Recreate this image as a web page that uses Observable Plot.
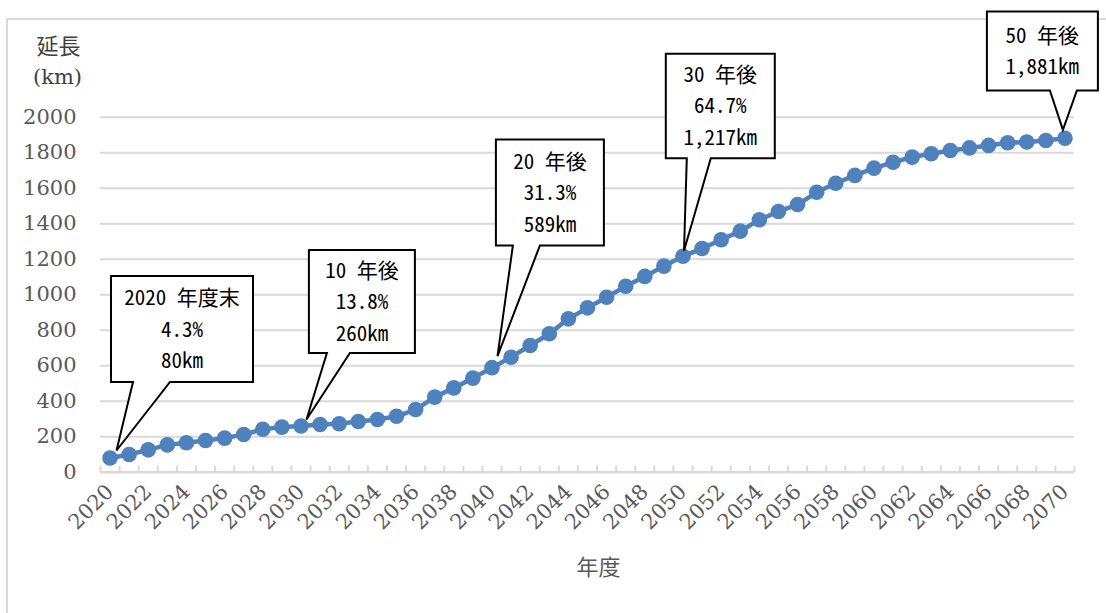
<!DOCTYPE html>
<html>
<head>
<meta charset="utf-8">
<script src="https://cdn.jsdelivr.net/npm/d3@7"></script>
<script src="https://cdn.jsdelivr.net/npm/@observablehq/plot@0.6"></script>
<style>
  html, body { margin: 0; padding: 0; background: #fff; }
  #wrap { position: relative; width: 1106px; height: 613px; overflow: hidden; }
  #frame { position: absolute; left: 6px; top: 18px; width: 1200px; height: 700px; border: 2px solid #d9d9d9; box-sizing: border-box; }
  #chart { position: absolute; left: 0; top: 0; }
</style>
</head>
<body>
<div id="wrap"><div id="frame"></div><div id="chart"></div></div>
<script>
// ---- data ----
const years = [2020,2021,2022,2023,2024,2025,2026,2027,2028,2029,
  2030,2031,2032,2033,2034,2035,2036,2037,2038,2039,
  2040,2041,2042,2043,2044,2045,2046,2047,2048,2049,
  2050,2051,2052,2053,2054,2055,2056,2057,2058,2059,
  2060,2061,2062,2063,2064,2065,2066,2067,2068,2069,2070];
const lengthKm = [80,100,126,154,166,179,192,212,242,254,
  260,269,273,286,297,315,353,423,475,530,
  589,648,714,780,864,926,986,1048,1103,1161,
  1217,1260,1310,1358,1422,1469,1508,1577,1628,1672,
  1713,1746,1775,1794,1812,1827,1841,1856,1860,1869,1881];
const xTickLabels = [2020,2022,2024,2026,2028,2030,2032,2034,2036,2038,2040,2042,2044,2046,2048,2050,2052,2054,2056,2058,2060,2062,2064,2066,2068,2070];
const yTickLabels = [0,200,400,600,800,1000,1200,1400,1600,1800,2000];
const calloutYears = [2020, 2030, 2040, 2050, 2070];
const calloutLines = [
  ["2020 年度末", "4.3%", "80km"],
  ["10 年後", "13.8%", "260km"],
  ["20 年後", "31.3%", "589km"],
  ["30 年後", "64.7%", "1,217km"],
  ["50 年後", "1,881km"]
];
const yAxisTitle = ["延長", "(km)"];
const xAxisTitle = "年度";

// ---- callout layout (pixel offsets from the anchored data point) ----
const calloutLayout = [
  {left: 1.5, right: 143.5, top: -181.5, bottom: -75.5, base: [23.5, 60.5], tip: [7, -7]},
  {left: 8.4, right: 114.4, top: -175.5, bottom: -72.5, base: [26.4, 49.4], tip: [6, -6]},
  {left: 4.4, right: 112.4, top: -227.7, bottom: -121.7, base: [21.4, 48.4], tip: [6, -11]},
  {left: -16.7, right: 92.3, top: -202, bottom: -97.5, base: [4.3, 28.3], tip: [1.5, -5]},
  {left: -77.6, right: 33.4, top: -126.3, bottom: -47.3, base: [-14.6, 12.4], tip: [-1.6, -8]}
];

const serif = "'DejaVu Serif', 'Liberation Serif', serif";
const calloutFont = "'Noto Sans Mono CJK JP', 'Noto Sans CJK JP', sans-serif";

const data = years.map((y, i) => ({year: y, km: lengthKm[i]}));
const boundaries = years.map(y => y - 0.5).concat([years[years.length - 1] + 0.5]);

const calloutMark = (index, scales) => {
  const g = d3.create("svg:g");
  calloutYears.forEach((yr, i) => {
    const v = lengthKm[years.indexOf(yr)];
    const px = scales.x(yr), py = scales.y(v);
    const L = calloutLayout[i];
    const pts = [[L.left, L.top], [L.right, L.top], [L.right, L.bottom], [L.base[1], L.bottom],
                 [L.tip[0], L.tip[1]], [L.base[0], L.bottom], [L.left, L.bottom]];
    g.append("path")
      .attr("d", "M" + pts.map(p => (px + p[0]).toFixed(1) + "," + (py + p[1]).toFixed(1)).join("L") + "Z")
      .attr("fill", "#fff").attr("stroke", "#000").attr("stroke-width", 2).attr("stroke-linejoin", "miter");
    const lines = calloutLines[i];
    const cx = px + (L.left + L.right) / 2, cy = py + (L.top + L.bottom) / 2;
    lines.forEach((t, j) => {
      g.append("text")
        .attr("x", cx).attr("y", cy + (j - (lines.length - 1) / 2) * 31.5)
        .attr("text-anchor", "middle").attr("dy", "0.36em")
        .attr("font-family", calloutFont)
        .attr("font-size", 21).attr("fill", "#000")
        .text(t);
    });
  });
  return g.node();
};

const plot = Plot.plot({
  width: 1106,
  height: 613,
  marginLeft: 100,
  marginRight: 32,
  marginTop: 116.7,
  marginBottom: 141.3,
  x: {domain: [2019.5, 2070.5]},
  y: {domain: [0, 2000]},
  style: {fontFamily: serif, background: "transparent", overflow: "visible"},
  marks: [
    Plot.ruleY(yTickLabels.filter(d => d > 0), {stroke: "#d9d9d9", strokeWidth: 2}),
    Plot.ruleY([0], {stroke: "#d9d9d9", strokeWidth: 2.5}),
    Plot.ruleX(boundaries, {y1: 0, y2: 34, stroke: "#d9d9d9", strokeWidth: 2}),
    Plot.axisY(yTickLabels, {tickSize: 0, tickPadding: 24, fontSize: 21, fill: "#595959", label: null, fontFamily: serif, tickFormat: d => String(d)}),
    Plot.axisX(xTickLabels, {tickSize: 0, tickRotate: -45, tickPadding: 16, fontSize: 21, fill: "#595959", label: null, fontFamily: serif, tickFormat: d => String(d)}),
    Plot.line(data, {x: "year", y: "km", stroke: "#4f81bd", strokeWidth: 4.5}),
    Plot.dot(data, {x: "year", y: "km", r: 7.8, fill: "#4f81bd", stroke: "none"}),
    Plot.text([yAxisTitle[0]], {frameAnchor: "top-left", textAnchor: "middle", lineAnchor: "middle", dx: -42, dy: -70, fontSize: 22, fill: "#404040", fontFamily: "'Noto Sans CJK JP', sans-serif"}),
    Plot.text([yAxisTitle[1]], {frameAnchor: "top-left", textAnchor: "middle", lineAnchor: "middle", dx: -43, dy: -40, fontSize: 21, fill: "#404040", fontFamily: serif}),
    Plot.text([xAxisTitle], {frameAnchor: "bottom", textAnchor: "middle", lineAnchor: "middle", dx: 11, dy: 96, fontSize: 22, fill: "#595959", fontFamily: "'Noto Sans CJK JP', sans-serif"}),
    calloutMark
  ]
});
document.getElementById("chart").appendChild(plot);
</script>
</body>
</html>
